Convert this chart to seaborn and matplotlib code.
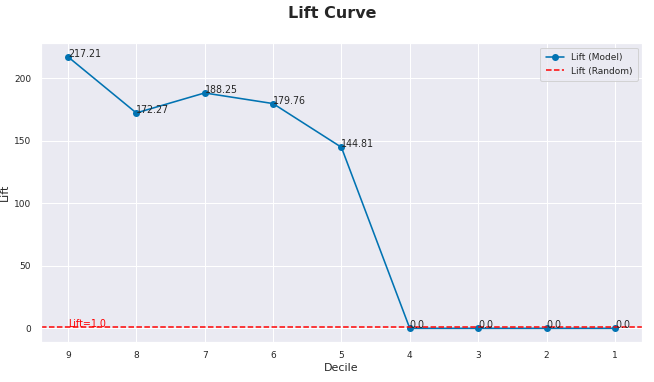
import matplotlib
matplotlib.use('Agg')
import matplotlib.pyplot as plt
import seaborn as sns

# Lift per decile
deciles = [9, 8, 7, 6, 5, 4, 3, 2, 1]
lift = [217.21, 172.27, 188.25, 179.76, 144.81, 0.0, 0.0, 0.0, 0.0]
random_lift = 1.0

sns.set_theme(style="darkgrid")
fig, ax = plt.subplots(figsize=(654 / 72, 382 / 72), dpi=72)

blue = sns.color_palette('colorblind')[0]
sns.lineplot(x=deciles, y=lift, marker='o', color=blue, markersize=7,
             markeredgewidth=0, linewidth=1.6, label='Lift (Model)', ax=ax)
ax.axhline(random_lift, color='red', linestyle='--', linewidth=1.5, label='Lift (Random)')

for d, v in zip(deciles, lift):
    ax.text(d, v, str(v), fontsize=9.5, color='#262626')
ax.text(deciles[0], random_lift, 'Lift=1.0', fontsize=9.5, color='red')

ax.invert_xaxis()
ax.set_xticks(deciles)
ax.set_xlabel('Decile', fontsize=11, labelpad=3)
ax.set_ylabel('Lift', fontsize=11, labelpad=4)
ax.tick_params(labelsize=9)
ax.legend(loc='upper right', fontsize=9, borderpad=0.6)
fig.suptitle('Lift Curve', fontsize=16, fontweight='bold', x=0.508, y=0.985)

fig.subplots_adjust(left=0.062, right=0.982, top=0.887, bottom=0.105)
fig.savefig('out.png', dpi=72)
plt.close(fig)
